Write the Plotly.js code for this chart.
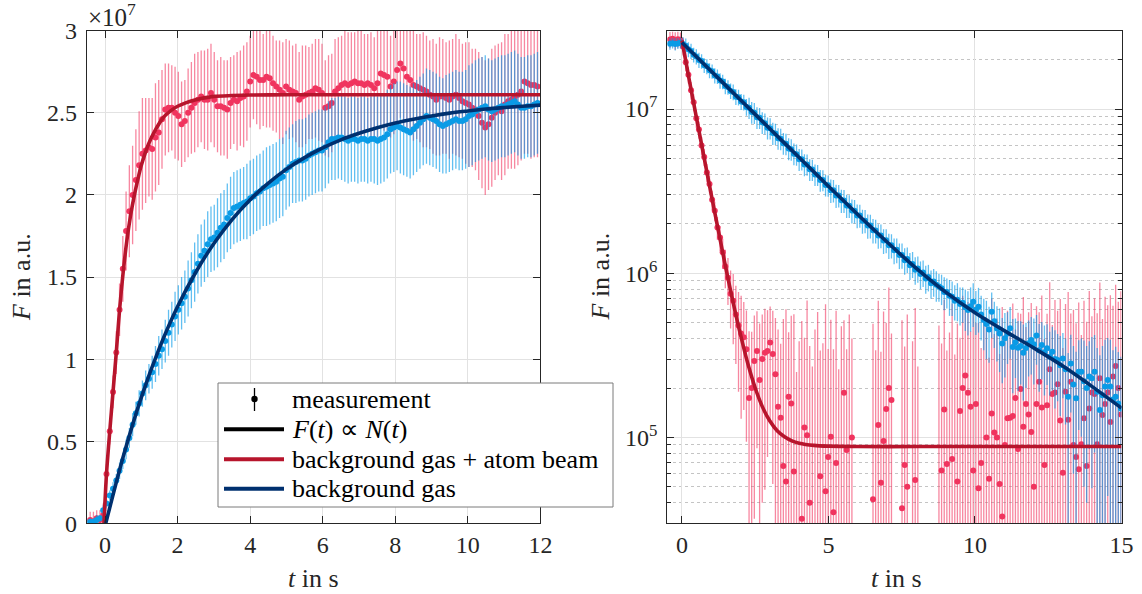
<!DOCTYPE html>
<html><head><meta charset="utf-8">
<script src="https://cdn.plot.ly/plotly-3.0.1.min.js"></script>
<style>html,body{margin:0;padding:0;background:#fff}#chart{width:1142px;height:594px}</style>
</head><body><div id="chart"></div>
<script>
// ---------- sampling grid (s) ----------
const SAMPLE_START = -0.41;
const SAMPLE_STEP = 0.09;

// ---------- left panel: loading, F in units of 1e7 ----------
const riseAtomBeam = [
0.02,0.01,0.03,0.02,0.05,0.30,0.56,0.80,1.04,1.30,
1.55,1.78,1.90,2.00,2.09,2.18,2.25,2.27,2.29,2.28,
2.35,2.38,2.46,2.52,2.53,2.53,2.50,2.48,2.43,2.45,
2.50,2.53,2.56,2.58,2.60,2.58,2.58,2.62,2.58,2.54,
2.54,2.53,2.52,2.56,2.58,2.57,2.59,2.60,2.63,2.69,
2.73,2.72,2.70,2.70,2.72,2.71,2.68,2.66,2.64,2.62,
2.66,2.64,2.63,2.62,2.58,2.60,2.61,2.62,2.63,2.65,
2.64,2.62,2.53,2.54,2.56,2.63,2.65,2.67,2.68,2.67,
2.68,2.69,2.68,2.68,2.67,2.68,2.67,2.65,2.68,2.74,
2.73,2.72,2.66,2.69,2.76,2.80,2.77,2.72,2.70,2.67,
2.66,2.65,2.64,2.63,2.61,2.60,2.58,2.60,2.60,2.59,
2.58,2.60,2.61,2.59,2.57,2.56,2.55,2.53,2.52,2.48,
2.44,2.41,2.43,2.47,2.50,2.52,2.51,2.55,2.57,2.58,
2.60,2.61,2.63,2.69,2.68,2.67,2.67,2.66];
const riseAtomBeamErr = [
0.05,0.06,0.05,0.06,0.07,0.06,0.08,0.10,0.13,0.16,
0.20,0.24,0.28,0.30,0.31,0.33,0.34,0.32,0.30,0.31,0.33,
0.32,0.30,0.28,0.27,0.26,0.28,0.27,0.26,0.25,0.27,0.28,0.30,0.29,0.28,0.30,0.31,0.30,0.29,0.28,0.30,
0.29,0.30,0.28,0.27,0.30,0.29,0.31,0.30,0.28,0.27,0.29,0.30,0.28,0.31,0.30,0.29,0.28,0.30,0.31,0.29,0.30,0.28,0.30,0.29,0.31,0.30,0.28,0.29,0.30,0.31,
0.30,0.29,0.31,0.30,0.32,0.31,0.30,0.33,0.32,0.31,0.30,0.32,0.33,0.31,0.30,0.32,0.31,0.33,0.32,0.34,0.33,0.31,0.32,0.34,0.33,0.35,0.32,0.33,0.34,0.32,
0.33,0.35,0.34,0.33,0.35,0.34,0.36,0.35,0.34,0.36,0.35,0.37,0.36,0.35,0.37,0.38,0.36,0.37,0.39,0.40,0.41,0.40,0.42,0.41,0.40,0.42,0.43,0.41,0.42,0.44,0.43,0.42,0.44,0.43,0.45,0.44,0.43];
const riseBackground = [
0.01,0.01,0.02,0.03,0.08,0.12,0.17,0.21,0.26,0.32,
0.38,0.45,0.52,0.60,0.67,0.73,0.79,0.84,0.88,0.92,
0.97,1.02,1.06,1.11,1.16,1.21,1.26,1.30,1.34,1.38,
1.43,1.48,1.53,1.58,1.63,1.66,1.70,1.73,1.74,1.77,
1.80,1.82,1.86,1.89,1.92,1.93,1.94,1.95,1.96,1.98,
1.99,2.01,2.02,2.04,2.05,2.06,2.07,2.08,2.10,2.11,
2.15,2.17,2.19,2.20,2.21,2.21,2.22,2.24,2.25,2.26,
2.27,2.27,2.29,2.32,2.34,2.34,2.35,2.35,2.34,2.33,
2.34,2.34,2.33,2.34,2.34,2.33,2.34,2.34,2.33,2.34,
2.35,2.37,2.40,2.41,2.42,2.41,2.40,2.39,2.38,2.40,
2.42,2.44,2.46,2.48,2.47,2.46,2.45,2.43,2.42,2.43,
2.44,2.45,2.46,2.45,2.45,2.46,2.48,2.49,2.51,2.52,
2.53,2.54,2.52,2.51,2.52,2.53,2.54,2.54,2.55,2.56,
2.57,2.55,2.53,2.53,2.54,2.54,2.55,2.56];
const riseBackgroundErr = [
0.02,0.02,0.03,0.02,0.03,0.03,0.03,0.04,0.04,0.05,
0.05,0.06,0.06,0.07,0.07,0.08,0.08,0.09,0.09,0.10,
0.11,0.12,0.12,0.13,0.14,0.14,0.15,0.15,0.16,0.16,0.17,0.17,0.18,0.18,0.19,0.19,0.20,0.20,0.20,0.21,0.21,
0.21,0.21,0.22,0.22,0.22,0.22,0.22,0.23,0.23,0.23,0.23,0.23,0.23,0.24,0.24,0.24,0.24,0.24,0.24,0.24,0.24,0.24,0.25,0.25,0.25,0.25,0.25,0.25,0.25,0.25,
0.25,0.25,0.25,0.25,0.25,0.25,0.26,0.26,0.26,0.26,0.26,0.26,0.26,0.26,0.26,0.26,0.27,0.27,0.27,0.27,0.27,0.27,0.27,0.27,0.28,0.28,0.28,0.28,0.28,0.28,
0.28,0.28,0.29,0.29,0.29,0.29,0.29,0.29,0.30,0.30,0.30,0.30,0.30,0.30,0.30,0.31,0.31,0.31,0.31,0.31,0.31,0.31,0.31,0.31,0.31,0.31,0.31,0.31,0.31,0.31,0.31,0.31,0.31,0.31,0.31,0.31,0.31];
// fitted curves F(t) ∝ N(t), loading
const riseFitAtomBeamT = [-0.03,0.04,0.13,0.22,0.31,0.40,0.5,0.6,0.7,0.8,0.9,1.0,1.2,1.4,1.6,1.8,2.0,2.5,3.0,3.5,4,5,6,8,10,12];
const riseFitAtomBeam  = [0,0.30,0.56,0.80,1.04,1.30,1.53,1.72,1.87,1.99,2.09,2.18,2.31,2.40,2.47,2.51,2.54,2.58,2.60,2.605,2.608,2.61,2.61,2.61,2.61,2.61];
const riseFitBackgroundT = [0.02,0.5,1,1.5,2,2.5,3,3.5,4,4.5,5,5.5,6,6.5,7,7.5,8,8.5,9,9.5,10,10.5,11,11.5,12];
const riseFitBackground  = [0,0.405,0.767,1.068,1.320,1.529,1.704,1.850,1.971,2.072,2.157,2.227,2.286,2.335,2.375,2.409,2.438,2.461,2.481,2.498,2.511,2.523,2.532,2.540,2.547];

// ---------- right panel: decay, F in units of 1e5 ----------
const DECAY_UNIT = 1e5;
const decayAtomBeam = [
265,268,262,266,264,
240,193,162,130,110,88,75,60,51,41,35,28,24,19,16.5,
13.4,11,9.4,7.5,6.8,
5.6,4.8,4.3,4.07,3.44,1.74,2.0,2.92,3.36,2.24,3.0,3.28,3.36,3.78,3.22,2.43,1.54,1.32,0.67,0.54,1.77,1.61,0.62,0.2,0.25,0.32,1.15,1.03,0.40,0.2,0.15,0.2,0.58,0.25,0.47,0.76,1.01,0.35,0.70,0.2,0.15,1.87,0.84,0.2,1.0,
-2,-2.5,-1.8,-2.2,-3,-2,-2.4,
0.42,0.2,1.19,0.53,0.95,1.49,2.0,1.69,-0.5,-3,-3,0.37,0.68,0.50,-2,0.15,0.55,0.2,-3,-3,-3,-3,-3,
-2.5,-3,0.2,0.63,1.48,0.69,0.15,0.74,0.2,0.54,1.45,2.0,2.38,1.87,1.54,0.63,1.6,0.49,0.70,0.2,1.0,0.56,1.4,1.07,1.0,0.52,0.33,0.9,1.31,1.32,1.35,1.74,0.85,1.97,1.16,1.6,1.38,1.08,0.50,1.6,2.18,1.52,0.68,1.57,2.6,1.84,1.88,2.11,1.27,0.61,1.9,1.28,2.18,0.90,0.76,0.64,0.91,1.31,0.67,1.5,1.88,1.84,0.91,2.29,1.37,1.6,1.88,1.24,2.35,2.72,2.0,1.38];
const decayAtomBeamErr = [
30,28,32,30,29,
28,23,19,16,13,11,9,7.5,6.2,5.2,4.4,3.8,3.3,3.0,2.9,
2.8,2.9,3.0,2.9,3.1,2.8,2.9,3.0,2.6,2.5,2.7,2.4,2.6,2.5,2.7,2.6,2.8,2.6,2.5,2.7,2.9,
3.0,2.4,4.6,5.5,2.6,3.9,5.0,2.3,3.6,4.8,2.9,5.8,3.2,2.5,4.4,5.6,2.8,3.5,6.0,2.7,4.2,3.1,5.2,2.4,4.6,3.3,2.6,5.4,3.0,
1,1,1,1,1,1,1,
4.5,3.2,5.6,2.8,4.9,3.5,6.2,2.6,3.3,1,1,4.8,2.9,5.1,1,3.7,5.6,2.5,1,1,1,1,1,
1,1,4.6,3.1,5.4,2.7,4.2,5.8,3.0,4.4,2.6,5.3,3.6,4.8,2.9,6.1,3.4,4.5,2.8,5.0,3.8,2.5,5.6,3.2,4.3,2.7,5.9,3.5,4.6,3.0,5.2,2.8,4.9,3.7,6.0,3.1,4.4,5.5,2.9,4.7,3.6,5.8,3.3,4.1,6.2,3.0,5.0,3.8,5.7,2.9,4.6,6.4,3.5,5.1,4.2,6.0,3.3,5.5,4.4,6.3,3.6,5.2,4.8,6.5,3.9,5.6,4.5,6.1,4.0,5.8,4.7,6.4];
const decayBackground = [
250,252,249,251,253,
249,243,231,226,214,209,199,196,185,182,172,170,160,158,149,147,138,136,129,127,119,118,111,110,103,
102,96,95,89,88.5,83,82,77,76.5,71.5,71,66.5,66,62,61.5,57.5,57,53.5,53,49.5,49.5,46,46,43,42.8,40,39.8,37,37,34.5,34.3,32,32,29.8,29.8,27.8,27.7,25.9,25.8,24.1,24,22.5,22.5,20.9,20.9,19.5,19.5,18.3,18.2,17.0,17.0,15.8,15.9,14.8,14.8,13.8,13.9,12.9,12.9,12.0,12.2,11.2,11.4,10.5,10.7,9.9,10.1,9.3,9.5,8.7,
8.9,8.5,8.3,8.1,7.7,7.7,7.3,7.2,6.8,6.9,6.5,6.6,6.2,5.97,
6.3,6.7,6.0,6.25,5.6,5.2,4.9,4.55,5.83,5.1,4.6,4.3,3.74,4.02,4.3,4.62,3.56,3.8,3.52,3.6,3.28,3.5,3.75,3.92,3.7,4.17,3.4,3.65,3.3,3.49,3.1,3.33,3.0,2.96,2.75,3.03,2.6,1.77,2.82,2.1,1.73,2.51,2.51,2.2,2.0,2.35,2.29,2.51,1.9,1.47,1.81,2.04,2.24,2.04,1.7,1.77,1.61,1.5];
const decayBackgroundErr = [
20,18,22,19,20,
25,26,24,24,22,22,21,20,19,19,18,17,17,16,16,15,15,14,14,14,13,13,12.5,12,12,
15,14.5,14,13.5,13,12.5,12,11.7,11.3,11,10.5,10,9.8,9.4,9.1,8.8,8.5,8.1,7.9,7.6,7.3,7,6.8,6.5,6.3,6,5.8,5.6,5.4,5.2,5.1,
5.2,5,4.8,4.7,4.5,4.4,4.2,4.1,4,3.9,3.7,3.6,3.5,3.4,3.3,3.2,3.1,3.0,2.9,2.8,2.7,2.65,2.6,2.5,2.45,2.4,2.3,2.25,2.2,2.15,2.1,2.05,2.0,1.95,1.9,1.85,1.8,1.75,1.7,
1.7,1.8,1.6,1.7,1.75,1.6,1.8,1.7,1.65,1.8,1.7,1.6,1.75,1.8,
1.9,2.0,1.8,1.9,1.7,1.8,1.9,1.7,1.8,1.6,1.7,1.8,1.6,1.7,1.5,1.6,1.7,1.5,1.6,1.5,
1.6,1.5,1.4,1.5,1.6,1.4,1.5,1.4,1.5,1.4,1.3,1.4,1.5,1.3,1.4,1.3,1.4,1.5,1.4,1.5,
1.6,1.4,1.5,1.7,1.6,1.5,1.8,1.7,1.6,1.7,1.8,1.9,1.8,1.9,1.7,1.8,1.7,1.6];
// fitted curves, decay
const decayFitAtomBeamT = [0,0.25,0.5,0.75,1.0,1.25,1.5,1.75,2.0,2.25,2.5,2.75,3.0,3.25,3.5,3.75,4.0,4.5,5,6,8,10,12,15];
const decayFitAtomBeam  = [262,150,87.6,51.3,30.1,17.9,10.7,6.61,4.21,2.81,2.0,1.53,1.26,1.10,1.01,0.954,0.923,0.895,0.885,0.88,0.88,0.88,0.88,0.88];
const decayFitBackgroundT = [0,1,2,3,4,5,6,7,8,9,10,11,12,13,14,15];
const decayFitBackground  = [254,170,113.5,75.9,50.7,33.9,22.8,15.5,10.7,7.67,5.75,4.47,3.51,2.72,2.04,1.51];

// ---------- tick labels / legend ----------
const riseTickVals = [0,0.5,1,1.5,2,2.5,3];
const riseTickText = ['0','0.5','1','1.5','2','2.5','3'];
const decayTickVals = [1e5,1e6,1e7];
const decayTickText = ['10<sup>5</sup>','10<sup>6</sup>','10<sup>7</sup>'];
const legendLabels = ['measurement','<i>F</i>(<i>t</i>) ∝ <i>N</i>(<i>t</i>)','background gas + atom beam','background gas'];

// ---------- build ----------
const grid = n => Array.from({length:n}, (_, i) => +(SAMPLE_START + SAMPLE_STEP*i).toFixed(3));
const riseT = grid(riseAtomBeam.length);
const decayT = grid(decayAtomBeam.length);
const scale = a => a.map(v => v*DECAY_UNIT);

const FAMILY = 'Liberation Serif';
const RED_PT = '#f0345e', RED_BAR = 'rgba(242,62,102,0.62)', RED_FIT = '#b7152c';
const BLUE_PT = '#0a9be6', BLUE_BAR = 'rgba(0,152,232,0.62)', BLUE_FIT = '#00306f';
const INK = '#262626';
const fnt = (s, c) => ({family:FAMILY, size:s, color:c || INK});

function meas(x, y, err, pt, bar, xa, ya) {
  return {type:'scatter', mode:'markers', x:x, y:y, xaxis:xa, yaxis:ya,
    marker:{size:6, color:pt, line:{width:0}},
    error_y:{type:'data', array:err, visible:true, color:bar, thickness:1.3, width:0},
    hoverinfo:'skip', showlegend:false};
}
function fit(x, y, c, xa, ya) {
  return {type:'scatter', mode:'lines', x:x, y:y, xaxis:xa, yaxis:ya,
    line:{color:c, width:3.6, shape:'spline', smoothing:0.8}, hoverinfo:'skip', showlegend:false};
}

const data = [
  meas(riseT, riseAtomBeam, riseAtomBeamErr, RED_PT, RED_BAR, 'x', 'y'),
  meas(riseT, riseBackground, riseBackgroundErr, BLUE_PT, BLUE_BAR, 'x', 'y'),
  fit(riseFitAtomBeamT, riseFitAtomBeam, RED_FIT, 'x', 'y'),
  fit(riseFitBackgroundT, riseFitBackground, BLUE_FIT, 'x', 'y'),
  meas(decayT, scale(decayAtomBeam), scale(decayAtomBeamErr), RED_PT, RED_BAR, 'x2', 'y2'),
  meas(decayT, scale(decayBackground), scale(decayBackgroundErr), BLUE_PT, BLUE_BAR, 'x2', 'y2'),
  fit(decayFitAtomBeamT, scale(decayFitAtomBeam), RED_FIT, 'x2', 'y2'),
  fit(decayFitBackgroundT, scale(decayFitBackground), BLUE_FIT, 'x2', 'y2')
];

const W = 1142, H = 594;
const px = v => v / W, py = v => 1 - v / H;

const axCommon = {
  ticks:'inside', ticklen:7, tickwidth:1, tickcolor:INK,
  showline:true, linecolor:INK, linewidth:1, mirror:'allticks',
  showgrid:true, gridcolor:'#e2e2e2', gridwidth:1, zeroline:false,
  tickfont:fnt(24), fixedrange:true
};

const minorVals = [];
[1e4,1e5,1e6,1e7].forEach(d => { for (let k = 2; k <= 9; k++) minorVals.push(k*d); });

// legend geometry (paper coords)
const LX0 = 218, LX1 = 613, LY0 = 383, LY1 = 507;
const rows = [399, 429.3, 459.3, 488.7];
const sampleX0 = 224, sampleX1 = 284, textX = 290;

const shapes = [
  {type:'rect', xref:'paper', yref:'paper', x0:px(LX0), x1:px(LX1), y0:py(LY1), y1:py(LY0),
   fillcolor:'#ffffff', line:{color:'#7a7a7a', width:1}, layer:'above'},
  {type:'line', xref:'paper', yref:'paper', x0:px(254.5), x1:px(254.5), y0:py(411), y1:py(388),
   line:{color:'#000', width:1.3}, layer:'above'},
  {type:'circle', xref:'paper', yref:'paper', x0:px(251.3), x1:px(257.7), y0:py(402.2), y1:py(395.8),
   fillcolor:'#000', line:{color:'#000', width:0}, layer:'above'},
  {type:'line', xref:'paper', yref:'paper', x0:px(sampleX0), x1:px(sampleX1), y0:py(rows[1]), y1:py(rows[1]),
   line:{color:'#000', width:4}, layer:'above'},
  {type:'line', xref:'paper', yref:'paper', x0:px(sampleX0), x1:px(sampleX1), y0:py(rows[2]), y1:py(rows[2]),
   line:{color:RED_FIT, width:4}, layer:'above'},
  {type:'line', xref:'paper', yref:'paper', x0:px(sampleX0), x1:px(sampleX1), y0:py(rows[3]), y1:py(rows[3]),
   line:{color:BLUE_FIT, width:4}, layer:'above'}
];

const annotations = legendLabels.map((t, i) => ({
  xref:'paper', yref:'paper', x:px(textX), y:py(rows[i]), xanchor:'left', yanchor:'middle',
  text:t, showarrow:false, font:fnt(26, '#000')
}));
annotations.push(
  {xref:'paper', yref:'paper', x:px(86), y:py(15), xanchor:'left', yanchor:'middle',
   text:'×10<sup>7</sup>', showarrow:false, font:fnt(25)},
  {xref:'paper', yref:'paper', x:px(22), y:py(277), xanchor:'center', yanchor:'middle', textangle:-90,
   text:'<i>F</i> in a.u.', showarrow:false, font:fnt(26)},
  {xref:'paper', yref:'paper', x:px(600.5), y:py(277), xanchor:'center', yanchor:'middle', textangle:-90,
   text:'<i>F</i> in a.u.', showarrow:false, font:fnt(26)},
  {xref:'paper', yref:'paper', x:px(313.5), y:py(578), xanchor:'center', yanchor:'middle',
   text:'<i>t</i> in s', showarrow:false, font:fnt(26)},
  {xref:'paper', yref:'paper', x:px(896.7), y:py(578), xanchor:'center', yanchor:'middle',
   text:'<i>t</i> in s', showarrow:false, font:fnt(26)}
);

const layout = {
  width:W, height:H, margin:{l:0, r:0, t:0, b:0},
  paper_bgcolor:'#ffffff', plot_bgcolor:'#ffffff', showlegend:false,
  font:fnt(24),
  xaxis: Object.assign({}, axCommon, {domain:[px(86.9), px(540.4)], range:[-0.5, 12],
    tickmode:'array', tickvals:[0,2,4,6,8,10,12], anchor:'y'}),
  yaxis: Object.assign({}, axCommon, {domain:[py(523.3), py(30.7)], range:[0, 3],
    tickmode:'array', tickvals:riseTickVals, ticktext:riseTickText, anchor:'x', ticklabelstandoff:4}),
  xaxis2: Object.assign({}, axCommon, {domain:[px(667.3), px(1121.5)], range:[-0.5, 15],
    tickmode:'array', tickvals:[0,5,10,15], anchor:'y2'}),
  yaxis2: Object.assign({}, axCommon, {domain:[py(523.3), py(30.7)], type:'log',
    range:[Math.log10(3e4), Math.log10(3e7)], tickmode:'array', tickvals:decayTickVals, ticktext:decayTickText,
    anchor:'x2', ticklabelstandoff:4,
    minor:{tickmode:'array', tickvals:minorVals, ticks:'inside', ticklen:4, tickcolor:INK,
      showgrid:true, gridcolor:'#c4c4c4', griddash:'dot', gridwidth:1}}),
  shapes:shapes, annotations:annotations
};

Plotly.newPlot('chart', data, layout, {displayModeBar:false, staticPlot:true});
</script></body></html>
